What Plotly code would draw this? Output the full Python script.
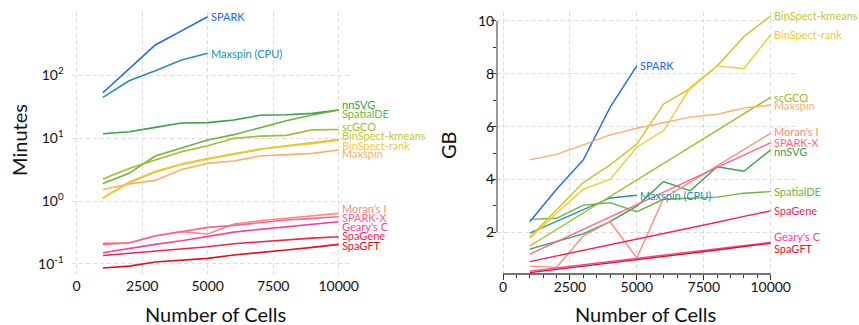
import math
import plotly.graph_objects as go

# ---------------- data ----------------
cells = [1000, 2000, 3000, 4000, 5000, 6000, 7000, 8000, 9000, 10000]
cells_short = [1000, 2000, 3000, 4000, 5000]

# running time (minutes)
t_spark = [53, 125, 305, 513, 861]
t_maxspin_cpu = [44.8, 82, 119, 176, 225]
t_nnsvg = [11.8, 12.7, 14.9, 17.5, 17.7, 19.5, 23.2, 23.7, 24.9, 28.1]
t_spatialde = [1.91, 2.76, 5.2, 7.06, 9.4, 11.4, 14.7, 19.0, 23.4, 28.1]
t_scgco = [2.24, 3.3, 4.5, 6.1, 7.6, 9.96, 10.8, 11.1, 13.6, 13.8]
t_binspect_kmeans = [1.12, 2.0, 2.95, 3.9, 4.75, 5.6, 6.75, 7.6, 8.4, 9.5]
t_binspect_rank = [1.10, 1.94, 2.88, 3.8, 4.62, 5.45, 6.6, 7.45, 8.2, 9.3]
t_maxspin = [1.53, 1.87, 2.13, 3.19, 3.98, 4.33, 5.2, 5.4, 5.74, 6.5]
t_morans_i = [0.212, 0.217, 0.28, 0.325, 0.298, 0.43, 0.486, 0.536, 0.59, 0.637]
t_spark_x = [0.204, 0.214, 0.278, 0.325, 0.381, 0.41, 0.452, 0.498, 0.53, 0.562]
t_gearys_c = [0.150, 0.176, 0.204, 0.233, 0.27, 0.32, 0.354, 0.39, 0.43, 0.469]
t_spagene = [0.136, 0.147, 0.156, 0.17, 0.187, 0.209, 0.225, 0.239, 0.257, 0.27]
t_spagft = [0.0857, 0.092, 0.107, 0.115, 0.122, 0.138, 0.15, 0.166, 0.183, 0.204]

# memory (GB)
m_spark = [2.4, 3.63, 4.74, 6.73, 8.31]
m_maxspin_cpu = [1.97, 2.42, 2.86, 3.3, 3.4]
m_nnsvg = [1.36, 1.64, 1.94, 2.40, 2.99, 3.92, 3.57, 4.48, 4.31, 5.12]
m_spatialde = [2.49, 2.53, 3.03, 3.12, 2.78, 3.25, 3.29, 3.33, 3.48, 3.54]
m_scgco = [1.48, 2.1, 2.73, 3.35, 3.98, 4.6, 5.23, 5.86, 6.48, 7.11]
m_binspect_kmeans = [1.81, 2.84, 3.88, 4.55, 5.34, 6.86, 7.45, 8.30, 9.41, 10.19]
m_binspect_rank = [1.77, 2.72, 3.63, 4.0, 5.22, 5.85, 7.49, 8.30, 8.19, 9.47]
m_maxspin = [4.74, 4.95, 5.31, 5.69, 5.94, 6.15, 6.36, 6.47, 6.70, 6.82]
m_morans_i = [0.72, 0.67, 1.86, 2.40, 1.03, 3.29, 3.90, 4.52, 5.13, 5.75]
m_spark_x = [1.17, 1.64, 2.11, 2.58, 3.05, 3.51, 3.98, 4.45, 4.92, 5.39]
m_gearys_c = [0.53, 0.65, 0.77, 0.89, 1.01, 1.14, 1.26, 1.38, 1.50, 1.62]
m_spagene = [0.89, 1.10, 1.32, 1.53, 1.74, 1.96, 2.17, 2.38, 2.60, 2.81]
m_spagft = [0.47, 0.59, 0.72, 0.84, 0.96, 1.09, 1.21, 1.33, 1.46, 1.58]

x_ticks = [0, 2500, 5000, 7500, 10000]
x_tick_text = ["0", "2500", "5000", "7500", "10000"]
time_ticks = [0.1, 1, 10, 100]
time_tick_text = ["10<sup>-1</sup>", "10<sup>0</sup>", "10<sup>1</sup>", "10<sup>2</sup>"]
mem_ticks = [2, 4, 6, 8, 10]
mem_minor_ticks = [3, 5, 7, 9]
x_minor_ticks = [v for v in range(500, 10000, 500) if v % 2500 != 0]

# ---------------- style ----------------
FONT = "Lato"
colors = {
    "SPARK": "#2166F3",
    "Maxspin (CPU)": "#2191B5",
    "nnSVG": "#3BA04A",
    "SpatialDE": "#6DB33F",
    "scGCO": "#A0BD2A",
    "BinSpect-kmeans": "#C9C51E",
    "BinSpect-rank": "#F5C932",
    "Maxspin": "#FFAD66",
    "Moran's I": "#FF8A7A",
    "SPARK-X": "#FF6395",
    "Geary's C": "#F7409F",
    "SpaGene": "#F2244F",
    "SpaGFT": "#E4101A",
}
# label pixel offsets (yshift) for the end-of-line labels
left_shift = {"nnSVG": 6, "SpatialDE": -3, "scGCO": 3, "BinSpect-kmeans": 4,
              "BinSpect-rank": -5, "Maxspin": -4, "Moran's I": 5, "SPARK-X": -1,
              "Geary's C": -5, "SpaGene": 1, "SpaGFT": -1}
right_shift = {"Maxspin": -1, "Moran's I": 2, "nnSVG": -2, "Geary's C": 6, "SpaGFT": -5}

left_series = [
    ("SPARK", cells_short, t_spark), ("Maxspin (CPU)", cells_short, t_maxspin_cpu),
    ("nnSVG", cells, t_nnsvg), ("SpatialDE", cells, t_spatialde), ("scGCO", cells, t_scgco),
    ("BinSpect-kmeans", cells, t_binspect_kmeans), ("BinSpect-rank", cells, t_binspect_rank),
    ("Maxspin", cells, t_maxspin), ("Moran's I", cells, t_morans_i), ("SPARK-X", cells, t_spark_x),
    ("Geary's C", cells, t_gearys_c), ("SpaGene", cells, t_spagene), ("SpaGFT", cells, t_spagft),
]
right_series = [
    ("SPARK", cells_short, m_spark), ("Maxspin (CPU)", cells_short, m_maxspin_cpu),
    ("nnSVG", cells, m_nnsvg), ("SpatialDE", cells, m_spatialde), ("scGCO", cells, m_scgco),
    ("BinSpect-kmeans", cells, m_binspect_kmeans), ("BinSpect-rank", cells, m_binspect_rank),
    ("Maxspin", cells, m_maxspin), ("Moran's I", cells, m_morans_i), ("SPARK-X", cells, m_spark_x),
    ("Geary's C", cells, m_gearys_c), ("SpaGene", cells, m_spagene), ("SpaGFT", cells, m_spagft),
]

W, H = 859, 325
fig = go.Figure()
annotations = []

for name, xs, ys in left_series:
    fig.add_trace(go.Scatter(x=xs, y=ys, mode="lines", name=name, xaxis="x", yaxis="y",
                             line=dict(color=colors[name], width=1.6), showlegend=False))
    annotations.append(dict(x=xs[-1], y=math.log10(ys[-1]), xref="x", yref="y", text=name,
                            showarrow=False, xanchor="left", yanchor="middle", xshift=1,
                            yshift=left_shift.get(name, 0),
                            font=dict(family=FONT, size=11, color=colors[name])))

for name, xs, ys in right_series:
    fig.add_trace(go.Scatter(x=xs, y=ys, mode="lines", name=name, xaxis="x2", yaxis="y2",
                             line=dict(color=colors[name], width=1.4), showlegend=False))
    annotations.append(dict(x=xs[-1], y=ys[-1], xref="x2", yref="y2", text=name,
                            showarrow=False, xanchor="left", yanchor="middle", xshift=1,
                            yshift=right_shift.get(name, 0),
                            font=dict(family=FONT, size=11, color=colors[name])))

titlefont = dict(family=FONT, size=20, color="#111")
# axis titles placed as paper annotations
for txt, px, py, ang in [("Number of Cells", 215, 314, 0), ("Number of Cells", 645, 314, 0),
                         ("Minutes", 19, 140, -90), ("GB", 448, 145, -90)]:
    annotations.append(dict(x=px / W, y=1 - py / H, xref="paper", yref="paper", text=txt,
                            showarrow=False, xanchor="center", yanchor="middle", textangle=ang,
                            font=titlefont))

ydom = [(H - 274) / H, (H - 12) / H]
grid = dict(showgrid=True, gridcolor="#dcdcdc", gridwidth=1, griddash="4px,3px",
            zeroline=False, showline=False)
tickfont = dict(family=FONT, size=14, color="#111")

fig.update_layout(
    width=W, height=H, margin=dict(l=0, r=0, t=0, b=0),
    paper_bgcolor="white", plot_bgcolor="white",
    xaxis=dict(domain=[71.7 / W, 352 / W], range=[-190, 10508], tickvals=x_ticks,
               ticktext=x_tick_text, ticks="", tickfont=tickfont, ticklabelstandoff=2,
               automargin=False, **grid),
    yaxis=dict(domain=ydom, type="log", range=[-1.162, 3.01], tickvals=time_ticks,
               ticktext=time_tick_text, ticks="", tickfont=tickfont, ticklabelstandoff=7,
               automargin=False, **grid),
    xaxis2=dict(domain=[497 / W, 795 / W], range=[-224, 10908], tickvals=x_ticks,
                ticktext=x_tick_text, ticks="outside", ticklen=5, tickwidth=1, tickcolor="#333",
                minor=dict(tickvals=x_minor_ticks, ticks="outside", ticklen=3, tickcolor="#333", showgrid=False),
                tickfont=tickfont, ticklabelstandoff=-5, automargin=False, anchor="y2", **grid),
    yaxis2=dict(domain=ydom, range=[0.42, 10.34], tickvals=mem_ticks, anchor="x2",
                ticks="outside", ticklen=5, tickwidth=1, tickcolor="#333",
                minor=dict(tickvals=mem_minor_ticks, ticks="outside", ticklen=3, tickcolor="#333", showgrid=False),
                tickfont=tickfont, ticklabelstandoff=-6, automargin=False, **grid),
    annotations=annotations,
    shapes=[
        dict(type="line", xref="x2", yref="paper", x0=0, x1=10000, y0=ydom[0], y1=ydom[0],
             line=dict(color="#444", width=1.5)),
        dict(type="line", xref="paper", yref="y2", x0=497 / W, x1=497 / W, y0=2, y1=10,
             line=dict(color="#333", width=1)),
    ],
)

fig.write_html("out.html", config={"displayModeBar": False},
               post_script="document.body.style.margin='0px';")
